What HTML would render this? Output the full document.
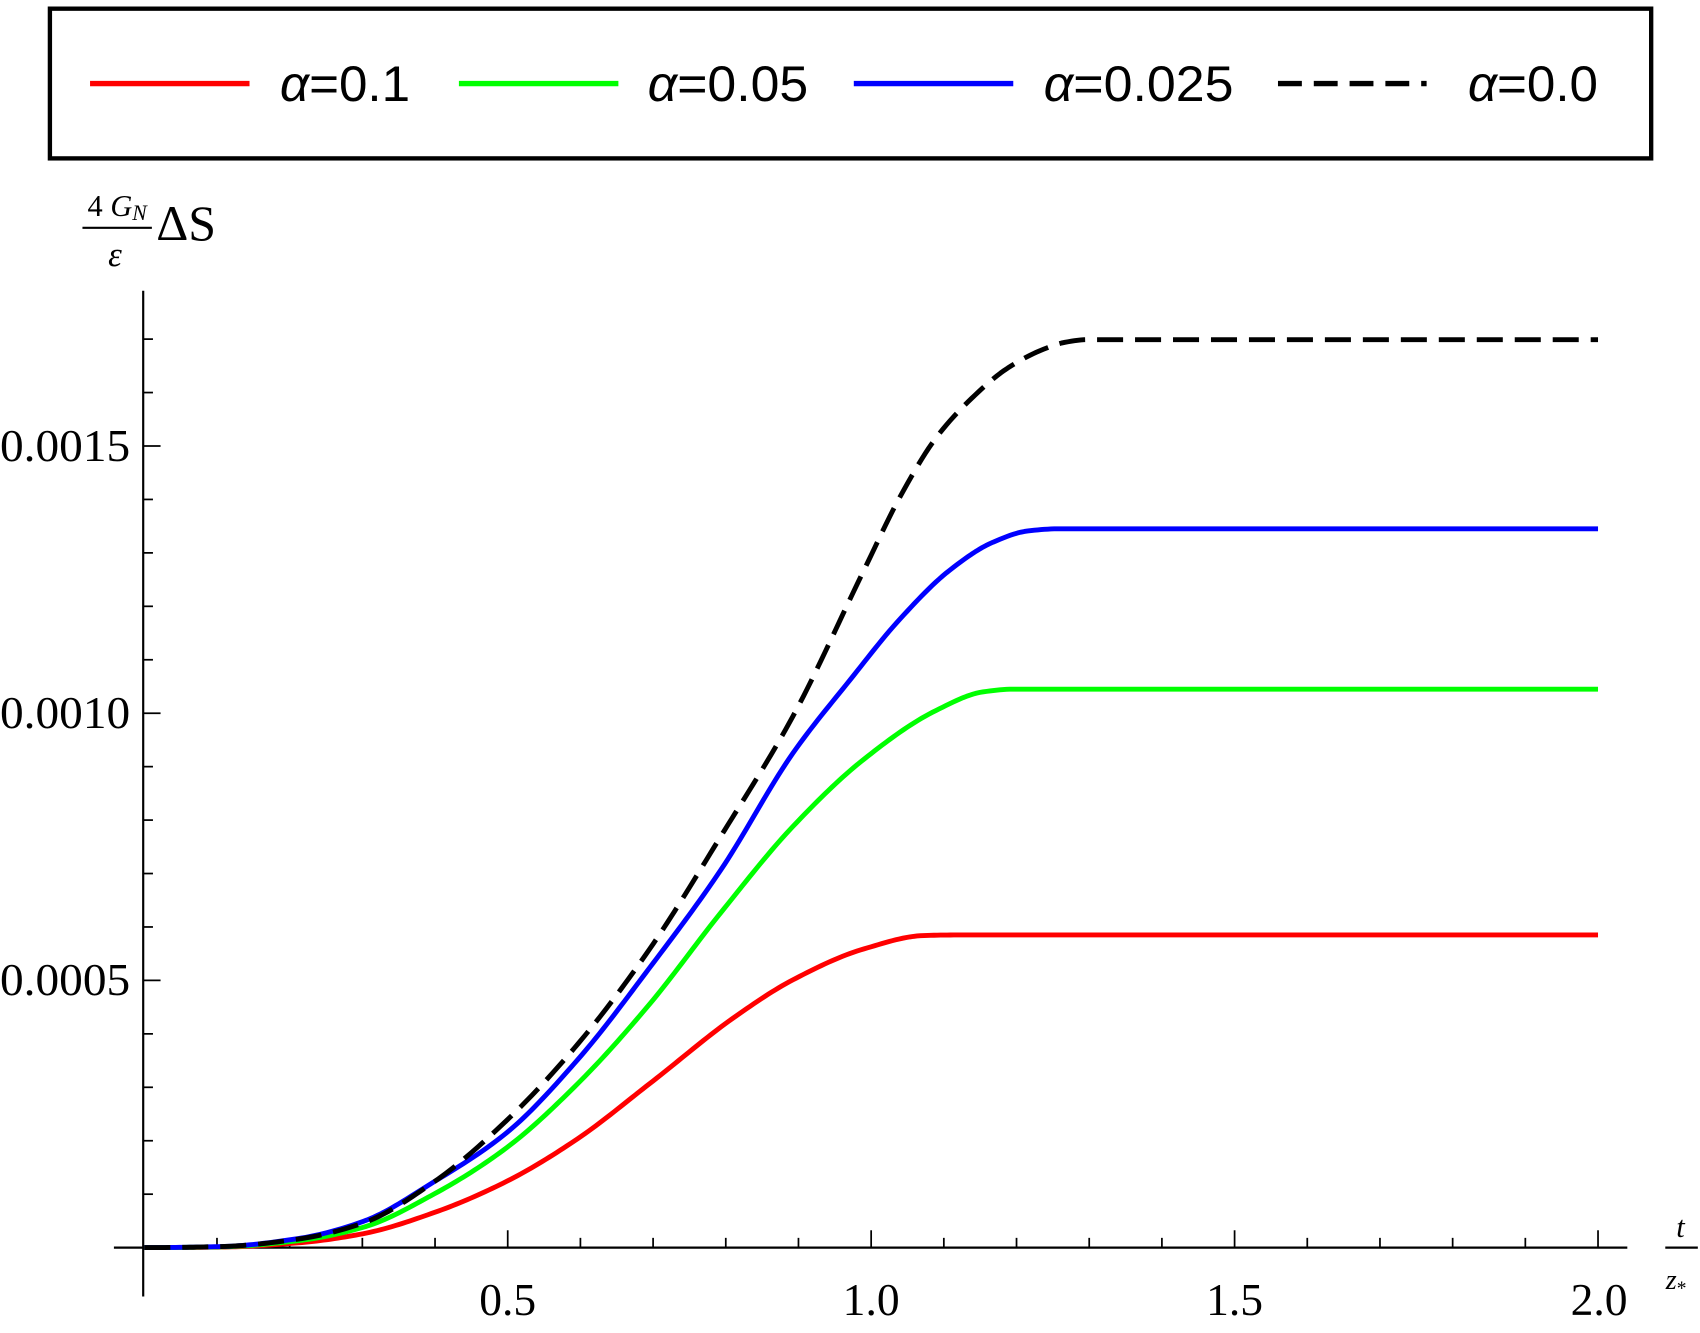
<!DOCTYPE html>
<html><head><meta charset="utf-8"><style>
html,body{margin:0;padding:0;background:#fff;}
svg{display:block;}
</style></head><body>
<svg id="s" width="1700" height="1333" viewBox="0 0 1567 1228.7" preserveAspectRatio="none" xmlns="http://www.w3.org/2000/svg">
<rect x="0" y="0" width="1567" height="1228.7" fill="#fff"/>
<rect x="46" y="8" width="1476" height="138" fill="#fff" stroke="#000" stroke-width="4"/>
<line x1="83" y1="77" x2="230" y2="77" stroke="#ff0000" stroke-width="5"/>
<line x1="423" y1="77" x2="570" y2="77" stroke="#00ff00" stroke-width="5"/>
<line x1="787" y1="77" x2="934" y2="77" stroke="#0000ff" stroke-width="5"/>
<line x1="1178" y1="77" x2="1315" y2="77" stroke="#000" stroke-width="5" stroke-dasharray="22,11"/>
<g font-family="Liberation Sans, sans-serif" font-size="46" fill="#000">
<text x="258" y="93" textLength="120" lengthAdjust="spacingAndGlyphs"><tspan font-style="italic">α</tspan>=0.1</text>
<text x="597" y="93" textLength="148" lengthAdjust="spacingAndGlyphs"><tspan font-style="italic">α</tspan>=0.05</text>
<text x="962" y="93" textLength="175" lengthAdjust="spacingAndGlyphs"><tspan font-style="italic">α</tspan>=0.025</text>
<text x="1353" y="93" textLength="120" lengthAdjust="spacingAndGlyphs"><tspan font-style="italic">α</tspan>=0.0</text>
</g>
<g stroke="#000" stroke-width="2">
<line x1="132" y1="268" x2="132" y2="1195"/>
<line x1="105" y1="1150" x2="1500" y2="1150"/>
</g>
<g font-family="Liberation Serif, serif" font-size="42" fill="#000">
<text x="0" y="425" textLength="120" lengthAdjust="spacingAndGlyphs">0.0015</text>
<text x="0" y="671" textLength="120" lengthAdjust="spacingAndGlyphs">0.0010</text>
<text x="0" y="917" textLength="120" lengthAdjust="spacingAndGlyphs">0.0005</text>
<text x="468" y="1212" text-anchor="middle">0.5</text>
<text x="803" y="1212" text-anchor="middle">1.0</text>
<text x="1138" y="1212" text-anchor="middle">1.5</text>
<text x="1474" y="1212" text-anchor="middle">2.0</text>
<text x="108" y="199" font-size="28" text-anchor="middle">4 <tspan font-style="italic">G</tspan><tspan font-style="italic" font-size="20" dy="4">N</tspan></text>
<line x1="76" y1="210" x2="140" y2="210" stroke="#000" stroke-width="2"/>
<text x="106" y="245" font-size="32" font-style="italic" text-anchor="middle">ε</text>
<text x="144" y="221" font-size="46">ΔS</text>
<text x="1549" y="1140" font-size="28" font-style="italic" text-anchor="middle">t</text>
<line x1="1535" y1="1150" x2="1565" y2="1150" stroke="#000" stroke-width="2"/>
<text x="1545" y="1188" font-size="26" font-style="italic" text-anchor="middle">z<tspan font-size="18" font-style="normal" dy="5">*</tspan></text>
</g>
<g id="ticks" stroke="#000" stroke-width="1.6"></g>
<g id="curves" fill="none" stroke-width="4.5" stroke-linejoin="round"></g>
</svg>
<script>
var NS="http://www.w3.org/2000/svg";
function X(t){return 133+670*t;}
function Y(v){return 1150-492.6*v;}
var tk=document.getElementById('ticks');
function ln(x1,y1,x2,y2){var l=document.createElementNS(NS,'line');l.setAttribute('x1',x1);l.setAttribute('y1',y1);l.setAttribute('x2',x2);l.setAttribute('y2',y2);tk.appendChild(l);}
for(var i=1;i<=20;i++){var x=X(i/10);var L=(i%5==0)?16:9;ln(x,1150,x,1150-L);}
for(var j=1;j<=17;j++){var y=Y(j/10);var L=(j%5==0)?16:9;ln(132,y,132+L,y);}
var data={
k:[[0,0],[0.1,0.002],[0.2,0.016],[0.284,0.046],[0.38,0.124],[0.477,0.238],[0.573,0.381],[0.67,0.559],[0.766,0.77],[0.863,0.994],[0.959,1.268],[1.008,1.406],[1.056,1.515],[1.104,1.589],[1.153,1.646],[1.201,1.681],[1.23,1.694],[1.26,1.699],[2,1.699]],
b:[[0,0],[0.1,0.002],[0.2,0.017],[0.284,0.049],[0.38,0.124],[0.477,0.215],[0.573,0.352],[0.67,0.524],[0.766,0.707],[0.863,0.925],[0.94,1.062],[1.008,1.177],[1.075,1.268],[1.133,1.32],[1.18,1.341],[1.22,1.345],[2,1.345]],
g:[[0,0],[0.1,0.0015],[0.2,0.013],[0.284,0.038],[0.38,0.101],[0.477,0.187],[0.573,0.307],[0.67,0.456],[0.766,0.627],[0.863,0.788],[0.959,0.914],[1.056,1.005],[1.12,1.04],[1.16,1.045],[2,1.045]],
r:[[0,0],[0.1,0.001],[0.2,0.009],[0.284,0.026],[0.38,0.066],[0.477,0.124],[0.573,0.204],[0.67,0.307],[0.786,0.433],[0.863,0.501],[0.959,0.559],[1.04,0.584],[1.08,0.585],[2,0.585]]
};
function tr(t){ if(t<=0||t>=2) return t; return Math.min(t*1.02+0.012*Math.min(1,t/0.3),1.99); }
function mono(pts){
 pts=pts.map(function(p){return [tr(p[0]),p[1]];});
 var n=pts.length,xs=pts.map(function(p){return p[0]}),ys=pts.map(function(p){return p[1]});
 var d=[],m=[];
 for(var i=0;i<n-1;i++)d.push((ys[i+1]-ys[i])/(xs[i+1]-xs[i]));
 m[0]=0;m[n-1]=0;
 for(var i=1;i<n-1;i++){ if(d[i-1]*d[i]<=0)m[i]=0; else {var w1=2*(xs[i+1]-xs[i])+(xs[i]-xs[i-1]),w2=(xs[i+1]-xs[i])+2*(xs[i]-xs[i-1]);m[i]=(w1+w2)/(w1/d[i-1]+w2/d[i]);} }
 m[n-2]=0;
 var out=[];
 for(var i=0;i<n-1;i++){
  var h=xs[i+1]-xs[i],N=Math.max(2,Math.ceil(h*200));
  for(var k=0;k<N;k++){var s=k/N,s2=s*s,s3=s2*s;
   var y=(2*s3-3*s2+1)*ys[i]+(s3-2*s2+s)*h*m[i]+(-2*s3+3*s2)*ys[i+1]+(s3-s2)*h*m[i+1];
   out.push([X(xs[i]+s*h),Y(y)]);}
 }
 out.push([X(xs[n-1]),Y(ys[n-1])]);
 return "M"+out.map(function(p){return p[0].toFixed(2)+","+p[1].toFixed(2)}).join(" L");
}
var cg=document.getElementById('curves');
[['r','#ff0000',null],['g','#00ff00',null],['b','#0000ff',null],['k','#000','24,11']].forEach(function(s){
 var e=document.createElementNS(NS,'path');e.setAttribute('d',mono(data[s[0]]));e.setAttribute('stroke',s[1]);
 if(s[2])e.setAttribute('stroke-dasharray',s[2]);cg.appendChild(e);
});
</script>
</body></html>
